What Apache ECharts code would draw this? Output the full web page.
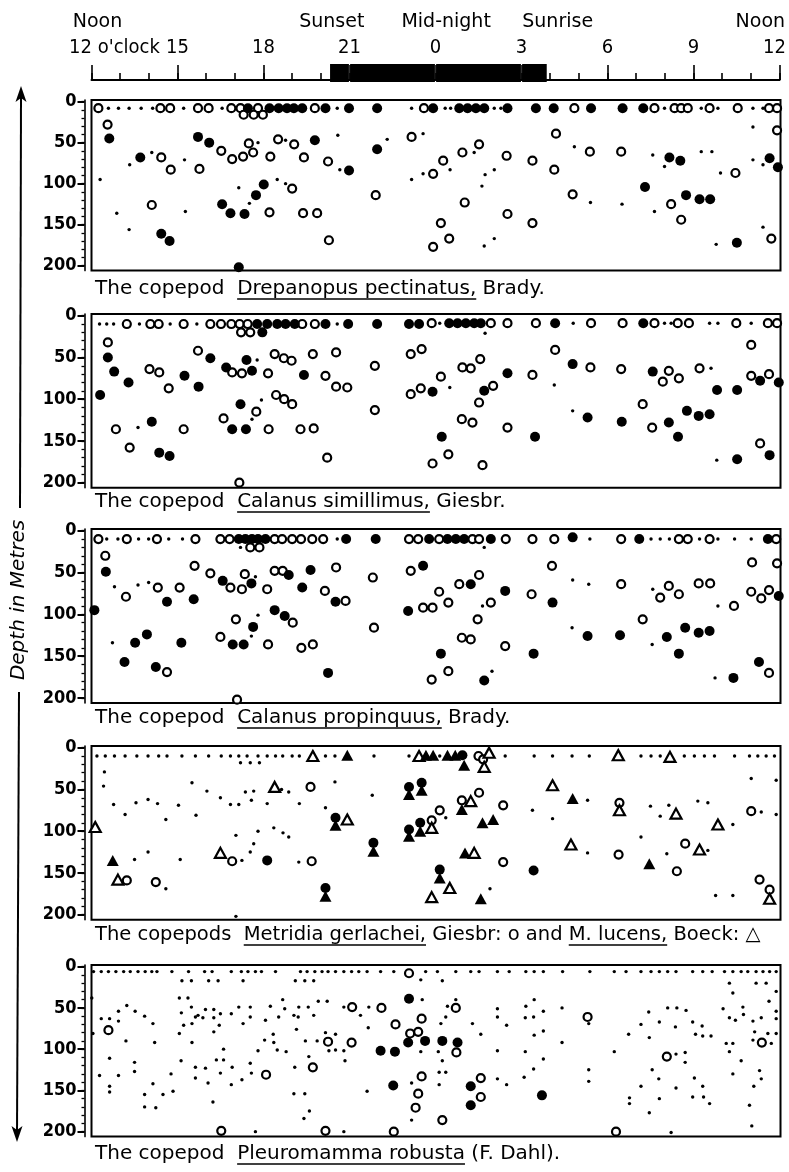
<!DOCTYPE html>
<html><head><meta charset="utf-8">
<script src="https://cdn.jsdelivr.net/npm/echarts@6/dist/echarts.min.js"></script>
<style>html,body{margin:0;padding:0;background:#fff}#c{width:789px;height:1172px}</style>
</head><body><div id="c"></div>
<script>
// ---------- axis values ----------
const hourMin = 12, hourMax = 36;
const depthMin = -2, depthMax = 206;
const tickHours = [12, 15, 18, 21, 24, 27, 30, 33, 36];
const tickLabels = ["12 o'clock", "15", "18", "21", "0", "3", "6", "9", "12"];
const dayWords = ["Noon", "Sunset", "Mid-night", "Sunrise", "Noon"];
const dayWordHours = [12.21, 20.38, 24.37, 28.26, 35.33];
const nightStart = 20.3, nightEnd = 27.9;
const nightBreaks = [21, 24, 27];
const depthTicks = [0, 50, 100, 150, 200];
const depthMinor = [0, 10, 20, 30, 40, 50, 60, 70, 80, 90, 100, 110, 120, 130, 140, 150, 160, 170, 180, 190, 200];

// ---------- captions ----------
const caption1 = ["The copepod  ", "Drepanopus pectinatus,", " Brady."];
const caption2 = ["The copepod  ", "Calanus simillimus,", " Giesbr."];
const caption3 = ["The copepod  ", "Calanus propinquus,", " Brady."];
const caption4 = ["The copepods  ", "Metridia gerlachei,", " Giesbr: o and ", "M. lucens,", " Boeck: \u25B3"];
const caption5 = ["The copepod  ", "Pleuromamma robusta", " (F. Dahl)."];
const depthTitle = "Depth in Metres";

// ---------- Panel 1: Drepanopus pectinatus [hour, depth m] ----------
const p1Dots = [[12.59,8],[12.94,8],[13.31,8],[13.73,8],[14.13,8],[15.21,8],[16.55,8],[20.56,8],[23.15,8],[24.32,8],[24.51,8],[26.03,8],[26.26,8],[31.96,8],[33.24,8],[33.82,8],[35.04,8],[35.39,8],
[12.30,95],[14.10,62],[13.33,77],[12.88,136],[13.31,156],[15.24,71],[15.27,134],[17.80,50],[18.76,47],[20.58,41],[20.65,83],[17.13,105],[17.50,124],[18.47,95],[18.76,100],[23.15,95],[22.30,46],[23.55,39],[24.49,83],[23.55,88],[25.33,62],[25.71,89],[26.03,83],[25.60,103],[28.82,55],[31.55,65],[31.96,79],[33.24,61],[33.61,61],[29.38,123],[30.48,125],[25.68,176],[26.03,167],[31.61,134],[33.76,174],[33.91,87],[35.04,31],[35.04,71],[35.39,77],[35.39,153]];
const p1Open = [[12.24,8],[14.40,8],[14.74,8],[15.71,8],[16.08,8],[16.87,8],[17.19,8],[17.80,8],[19.78,8],[23.58,8],[28.82,8],[31.61,8],[32.31,8],[32.54,8],[32.77,8],[33.53,8],[34.51,8],[35.60,8],[35.88,8],
[17.30,16],[17.65,16],[17.97,16],
[12.56,28],[14.43,68],[14.76,83],[14.10,126],[15.76,82],[16.52,60],[16.90,70],[17.28,67],[17.48,51],[17.63,62],[18.23,67],[18.50,46],[19.06,52],[19.40,68],[20.24,73],[23.15,43],[18.20,135],[18.99,106],[19.37,136],[19.86,136],[20.27,169],[21.90,114],
[28.18,39],[24.92,62],[25.50,52],[24.25,72],[23.90,88],[26.46,66],[27.36,72],[28.12,83],[29.36,61],[30.45,61],[28.76,113],[25.00,123],[24.17,148],[24.46,167],[23.90,177],[26.49,137],[27.36,148],[32.19,125],[32.54,144],[34.43,87],[35.88,35],[35.68,167]];
const p1Filled = [[17.45,8],[18.20,8],[18.52,8],[18.81,8],[19.05,8],[19.34,8],[20.15,8],[20.97,8],[21.95,8],[23.90,8],[24.81,8],[25.10,8],[25.39,8],[25.68,8],[26.49,8],[27.48,8],[28.10,8],[29.40,8],[30.50,8],[31.22,8],
[12.62,45],[13.70,68],[14.43,161],[14.72,170],[15.71,43],[16.10,50],[19.78,47],[20.97,84],[21.95,58],[18.00,101],[17.73,114],[16.55,125],[16.84,136],[17.33,137],[17.13,202],
[32.13,68],[32.51,72],[31.28,104],[32.71,114],[33.18,119],[33.55,119],[34.48,172],[35.62,69],[35.91,80]];

// ---------- Panel 2: Calanus simillimus ----------
const p2Dots = [[12.28,10],[12.53,10],[12.77,10],[13.67,10],[14.74,10],[15.67,10],[20.56,10],[24.13,9],[28.78,9],[31.96,9],[32.19,9],[33.53,9],[33.82,9],[34.98,9],
[13.62,134],[17.77,53],[17.92,101],[17.59,124],[25.71,21],[24.48,86],[28.12,83],[33.58,63],[28.76,114],[33.78,173]];
const p2Open = [[13.23,10],[14.05,10],[14.34,10],[15.21,10],[16.14,10],[16.51,10],[16.87,10],[17.16,10],[17.44,10],[19.34,10],[19.78,10],[23.85,9],[25.91,9],[26.49,9],[27.48,9],[29.40,9],[30.50,9],[31.61,9],[32.42,9],[32.81,9],[34.46,9],[35.56,9],[35.88,9],
[17.21,20],[17.53,20],
[12.57,32],[14.02,64],[14.36,68],[14.69,87],[12.85,136],[13.33,158],[15.21,136],[15.71,42],[16.90,68],[17.24,69],[18.15,69],[18.38,46],[18.70,51],[18.97,54],[19.71,46],[20.15,72],[20.52,44],[20.52,85],[20.91,86],[21.87,60],[21.87,113],[17.74,115],[16.60,123],[18.17,136],[18.43,95],[18.71,100],[18.99,106],[19.28,136],[19.74,135],[20.21,170],[17.15,200],[23.12,46],[23.12,94],
[23.50,40],[28.15,41],[24.92,62],[25.21,63],[25.54,52],[24.17,73],[23.47,87],[25.99,84],[25.50,104],[27.36,71],[29.38,62],[30.45,64],[32.11,66],[31.90,79],[32.46,75],[33.18,63],[34.98,72],[35.60,70],[34.98,35],[24.90,124],[25.27,128],[24.43,166],[23.88,177],[25.62,179],[26.49,134],[31.20,106],[31.53,134],[35.29,153]];
const p2Filled = [[17.77,10],[18.12,10],[18.47,10],[18.76,10],[19.08,10],[20.15,10],[20.94,10],[21.95,10],[23.06,10],[23.41,10],[24.46,9],[24.75,9],[25.04,9],[25.33,9],[25.56,9],[28.15,9],[31.22,9],
[17.95,20],
[12.57,50],[12.79,67],[12.30,95],[13.29,80],[14.10,127],[14.36,164],[14.72,168],[15.24,72],[15.73,85],[16.14,51],[16.69,62],[17.40,53],[17.59,66],[19.40,71],[17.19,106],[16.90,136],[17.38,136],
[23.88,91],[25.68,90],[26.49,69],[28.76,58],[31.55,67],[33.79,89],[34.49,89],[35.29,78],[35.94,80],[24.20,145],[27.45,145],[29.28,122],[30.47,127],[32.11,128],[32.43,145],[32.74,114],[33.15,120],[33.53,118],[35.62,167],[34.49,172]];

// ---------- Panel 3: Calanus propinquus ----------
const p3Dots = [[12.53,10],[12.92,10],[13.64,10],[13.99,10],[14.69,10],[15.17,10],[20.56,10],[29.36,10],[31.49,10],[31.81,10],[32.13,10],[33.18,10],[33.82,10],[34.40,10],[34.98,10],
[17.19,20],
[12.80,67],[13.62,65],[13.99,62],[17.71,55],[12.73,134],[17.80,101],[17.57,126],[25.68,20],[25.62,90],[28.76,59],[29.32,64],[31.55,70],[33.82,90],[28.74,116],[31.53,136],[25.95,168],[33.72,176]];
const p3Open = [[12.24,10],[13.23,10],[14.28,10],[15.62,10],[16.49,10],[16.81,10],[18.38,10],[18.64,10],[18.99,10],[19.30,10],[19.69,10],[20.07,10],[23.06,10],[23.38,10],[24.11,10],[25.27,10],[25.50,10],[26.43,10],[27.36,10],[28.12,10],[30.45,10],[32.46,10],[32.77,10],[33.53,10],[35.85,10],
[17.53,20],[17.85,20],
[12.48,30],[13.20,79],[14.31,68],[15.07,68],[15.59,42],[16.14,51],[16.84,68],[17.24,70],[17.34,52],[18.12,70],[18.38,48],[18.66,48],[20.13,72],[20.52,44],[20.85,84],[21.80,56],[21.84,116],[14.63,169],[17.03,106],[16.49,127],[18.15,136],[19.01,110],[19.31,140],[19.71,136],[17.07,202],[23.12,48],
[28.04,42],[24.11,73],[24.43,86],[24.81,64],[25.50,53],[23.55,92],[23.88,92],[25.91,86],[25.45,106],[27.33,76],[30.45,64],[32.11,66],[31.81,80],[32.46,76],[33.15,63],[33.55,63],[34.38,90],[35.01,38],[35.88,39],[34.98,73],[35.33,81],[35.60,71],[31.20,106],[24.90,128],[25.21,130],[24.43,168],[23.85,178],[26.41,138],[35.60,170]];
const p3Filled = [[17.13,10],[17.36,10],[17.59,10],[17.80,10],[18.06,10],[20.87,10],[21.90,10],[23.76,10],[24.40,10],[24.69,10],[24.98,10],[25.91,10],[28.76,8],[31.08,10],[35.56,10],
[12.50,49],[12.10,95],[14.63,85],[15.56,82],[16.57,60],[17.57,63],[18.87,53],[19.63,47],[19.34,68],[20.50,85],[13.52,134],[13.93,124],[13.15,157],[14.24,163],[15.13,134],[17.63,115],[16.92,136],[17.30,136],[18.38,95],[18.73,102],[20.24,170],[23.03,96],
[23.55,42],[25.21,64],[26.41,72],[28.06,86],[35.94,78],[29.28,126],[30.41,125],[32.04,127],[32.46,147],[32.68,116],[33.15,122],[33.53,120],[24.17,147],[25.68,179],[27.40,147],[35.25,157],[34.36,176]];

// ---------- Panel 4: Metridia gerlachei (circles) and M. lucens (triangles) ----------
const p4Dots = [[12.19,10],[12.48,10],[12.80,10],[13.17,10],[13.58,10],[13.97,10],[14.34,10],[14.63,10],[15.15,10],[15.62,10],[16.08,10],[16.52,10],[16.84,10],[17.13,10],[17.42,10],[17.80,10],[18.12,10],[18.41,10],[18.66,10],[18.99,10],[19.24,10],[20.15,10],[20.48,10],[21.84,10],[23.06,10],
[24.13,10],[26.41,10],[27.42,10],[28.06,10],[28.74,10],[29.34,10],[31.14,10],[31.49,10],[31.81,10],[32.65,10],[33.00,10],[33.35,10],[33.70,10],[34.40,10],[34.92,10],[35.21,10],[35.50,10],[35.79,10],
[17.19,18],[17.53,18],[17.85,18],
[12.45,29],[12.42,46],[12.77,68],[13.17,80],[13.55,66],[13.97,62],[14.30,67],[14.59,86],[15.03,69],[15.50,42],[15.64,81],[16.02,52],[16.49,60],[16.84,68],[17.13,68],[17.36,53],[17.65,52],[17.57,63],[18.12,67],[18.62,50],[18.87,53],[19.24,67],[20.48,41],[20.15,72],[21.78,57],[17.03,105],[17.80,100],[17.65,115],[17.53,125],[18.35,96],[18.67,102],[18.87,107],[13.50,134],[13.97,125],[14.59,169],[15.09,134],[17.24,135],[19.22,137],[17.03,202],
[24.34,84],[27.36,75],[28.06,85],[29.28,63],[31.47,70],[32.11,69],[31.81,82],[33.12,64],[33.47,66],[34.34,92],[35.33,77],[35.85,80],[34.98,37],[35.85,39],[31.14,107],[33.47,123],[29.28,126],[32.04,127],[25.88,169],[33.74,177],[34.34,177]];
const p4OpenCircle = [[19.63,47],[13.23,159],[14.24,161],[16.90,136],[19.67,136],[25.48,10],[25.64,14],[23.85,87],[24.13,75],[24.90,63],[25.50,54],[26.34,69],[30.39,66],[34.98,76],[32.68,115],[26.34,137],[30.36,128],[32.39,148],[35.27,158],[35.62,170]];
const p4FilledCircle = [[18.12,135],[20.50,84],[21.82,114],[20.15,168],[23.06,47],[23.50,42],[23.06,98],[23.45,90],[24.92,9],[27.40,147],[24.13,146]];
const p4OpenTriangle = [[19.71,10],[23.41,10],[18.38,47],[20.91,86],[12.13,95],[12.92,158],[16.49,126],[25.85,6],[25.68,23],[23.85,96],[25.21,64],[28.06,45],[30.39,75],[30.35,9],[32.15,11],[32.36,79],[33.82,92],[33.18,122],[25.33,126],[28.70,116],[24.48,168],[23.85,179],[35.62,181]];
const p4FilledTriangle = [[20.91,9],[23.65,9],[23.90,9],[24.40,9],[24.67,9],[24.98,21],[12.74,135],[20.50,93],[21.82,124],[20.15,178],[23.06,56],[23.50,51],[23.06,106],[23.45,100],[24.90,74],[25.62,90],[25.99,86],[28.76,61],[25.01,126],[31.43,139],[24.13,156],[25.56,181]];

// ---------- Panel 5: Pleuromamma robusta ----------
const p5Dots = [[12.07,6],[12.34,6],[12.59,6],[12.85,6],[13.12,6],[13.35,6],[13.62,6],[13.87,6],[14.10,6],[14.28,6],[14.80,6],[15.38,6],[15.94,6],[16.20,6],[16.87,6],[17.22,6],[17.45,6],[17.71,6],[17.92,6],[18.41,6],[19.28,6],[19.51,6],[19.78,6],[20.03,6],[20.24,6],[20.50,6],[20.79,6],[21.06,6],[21.31,6],[21.60,6],[22.07,6],[22.53,6],
[23.64,6],[24.05,6],[24.69,6],[25.21,6],[25.50,6],[26.14,6],[26.55,6],[27.13,6],[27.42,6],[27.74,6],[28.41,6],[29.36,6],[30.21,6],[30.62,6],[31.14,6],[31.49,6],[31.78,6],[32.07,6],[32.36,6],[32.94,6],[33.29,6],[33.62,6],[34.05,6],[34.34,6],[34.63,6],[34.86,6],[35.15,6],[35.39,6],[35.62,6],[35.85,6],
[15.15,17],[15.48,17],[16.08,17],[16.41,17],[17.28,17],[19.10,17],[19.43,17],[19.74,17],[23.47,16],[24.22,17],[34.22,20],[35.15,20],[35.50,20],
[12.01,38],[12.34,63],[12.63,63],[12.94,54],[13.23,47],[13.52,54],[13.85,60],[14.14,69],[12.05,81],[12.94,66],[13.20,90],[12.63,111],[12.94,132],[13.50,116],[13.50,127],[12.28,132],[12.63,145],[12.63,152],[13.85,155],[14.14,142],[14.49,155],[13.85,170],[14.24,171],[14.20,92],[14.77,130],[14.84,151],[15.12,114],
[15.06,38],[15.36,38],[15.13,56],[15.48,49],[15.71,59],[15.97,52],[16.26,52],[16.49,57],[15.21,71],[15.50,69],[15.62,61],[15.06,81],[15.50,92],[15.88,62],[16.26,62],[16.26,79],[16.45,71],[15.62,122],[15.97,123],[15.62,135],[16.06,141],[16.23,164],[16.35,113],[16.49,129],[16.60,100],[16.60,113],[16.90,122],[16.87,143],[17.24,137],[17.53,117],[17.57,129],
[16.87,57],[17.13,49],[17.28,69],[17.53,49],[17.53,61],[17.80,102],[18.03,89],[18.06,65],[18.23,48],[18.33,82],[18.35,92],[18.47,101],[18.66,40],[18.52,61],[18.73,51],[18.78,103],[19.05,59],[19.20,61],[19.14,76],[19.22,49],[19.45,90],[19.55,49],[19.74,59],[19.90,42],[20.21,42],[19.08,122],[19.57,109],[19.86,90],
[20.15,80],[20.50,82],[20.27,102],[20.50,101],[20.79,102],[20.83,114],[20.79,49],[21.37,59],[21.66,49],[21.64,74],[21.60,151],[23.15,141],[23.52,40],[23.47,103],[23.15,186],
[19.05,154],[19.43,154],[19.59,175],[19.40,184],[17.71,200],[20.79,200],
[24.40,48],[24.69,40],[24.17,69],[24.34,61],[25.27,69],[25.56,82],[26.14,51],[26.14,61],[26.46,71],[27.13,48],[27.42,40],[27.11,62],[27.40,61],[27.74,54],[27.42,83],[27.74,78],[28.39,50],[28.39,92],[26.14,102],[27.11,103],[27.74,112],[27.40,124],[27.07,134],[26.46,143],[26.14,136],[24.11,143],[24.11,128],[24.34,128],[24.22,114],[24.08,103],
[29.32,125],[29.32,139],[29.32,69],[30.21,103],[30.71,82],[31.14,70],[31.41,55],[31.43,86],[31.78,67],[32.07,50],[32.39,50],[32.71,53],[32.34,73],[32.94,67],[33.27,72],[33.04,82],[33.29,84],[33.58,84],[32.68,104],[32.68,116],[32.36,106],[31.53,125],[31.76,136],[31.14,145],[31.78,160],[32.36,147],[33.00,135],[33.29,145],[32.94,158],[33.32,158],[33.53,166],[30.74,159],[30.74,166],[31.43,177],[32.19,201],
[34.00,51],[34.22,62],[34.43,65],[34.34,32],[34.69,49],[34.71,58],[35.04,66],[35.33,62],[35.60,42],[35.85,54],[35.85,63],[35.10,79],[35.56,81],[35.85,81],[34.11,93],[34.34,93],[34.22,103],[34.63,114],[35.04,89],[35.68,93],[34.34,130],[35.27,126],[35.33,136],[35.07,145],[34.92,168],[35.00,193],[35.85,30]];
const p5Open = [[12.59,77],[16.52,199],[18.08,131],[19.71,122],[20.24,91],[21.08,49],[21.06,92],[22.10,50],[22.59,70],[20.15,199],[22.53,200],[23.06,8],[23.10,81],[23.38,79],[23.38,154],[23.29,171],[23.50,63],[24.69,50],[24.71,104],[23.50,133],[25.56,135],[25.56,158],[24.22,186],[29.28,61],[30.27,200],[32.04,109],[35.35,92]];
const p5Filled = [[23.06,39],[22.07,102],[22.57,103],[23.03,92],[23.62,90],[24.22,90],[24.75,92],[22.51,144],[25.21,145],[25.21,168],[27.69,156]];

// ---------- layout ----------
const GRID_LEFT = 91.5, GRID_RIGHT = 8.5;
const panelTops = [100, 314, 529, 746, 965];
const panelHeights = [170.6, 173.7, 174, 173.7, 171.6];
const captionYs = [289, 502, 718, 935, 1154];
const captionSizes = [20, 20, 20, 19.5, 20];
const captionX = 95;
const CAP_FONT = 'DejaVu Sans';
const TOP_FONT = "'DejaVu Sans Condensed', 'DejaVu Sans'";
const NUM_FONT = "'Liberation Sans Narrow', 'DejaVu Sans Condensed', 'Liberation Sans'";

const panels = [
  { series: [['dot', p1Dots], ['open', p1Open], ['filled', p1Filled]], caption: caption1, under: [0,1,0] },
  { series: [['dot', p2Dots], ['open', p2Open], ['filled', p2Filled]], caption: caption2, under: [0,1,0] },
  { series: [['dot', p3Dots], ['open', p3Open], ['filled', p3Filled]], caption: caption3, under: [0,1,0] },
  { series: [['dot', p4Dots], ['open', p4OpenCircle], ['openTri', p4OpenTriangle], ['filled', p4FilledCircle], ['filledTri', p4FilledTriangle]], caption: caption4, under: [0,1,0,1,0] },
  { series: [['dot', p5Dots], ['open', p5Open], ['filled', p5Filled]], caption: caption5, under: [0,1,0] }
];

const markStyles = {
  dot: { symbol: 'circle', symbolSize: 3.4, itemStyle: { color: '#000', opacity: 1 } },
  open: { symbol: 'circle', symbolSize: 8, itemStyle: { color: '#fff', borderColor: '#000', borderWidth: 2.2, opacity: 1 } },
  filled: { symbol: 'circle', symbolSize: 10, itemStyle: { color: '#000', opacity: 1 } },
  openTri: { symbol: 'triangle', symbolSize: [11, 10], itemStyle: { color: '#fff', borderColor: '#000', borderWidth: 2.2, opacity: 1 } },
  filledTri: { symbol: 'triangle', symbolSize: [12, 11], itemStyle: { color: '#000', opacity: 1 } }
};

const grids = [{ left: GRID_LEFT, right: GRID_RIGHT, top: 64, height: 16 }];
const xAxes = [
  { gridIndex: 0, type: 'value', min: hourMin, max: hourMax, interval: 1, position: 'bottom',
    axisLine: { show: true, lineStyle: { color: '#000', width: 2 } },
    axisTick: { show: true, inside: true, length: 7, lineStyle: { color: '#000', width: 1.6 } },
    axisLabel: { show: false }, splitLine: { show: false } },
  { gridIndex: 0, type: 'value', min: hourMin, max: hourMax, interval: 3, position: 'bottom',
    axisLine: { show: false },
    axisTick: { show: true, inside: true, length: 15, lineStyle: { color: '#000', width: 1.6 } },
    axisLabel: { show: false }, splitLine: { show: false } },
  { gridIndex: 0, type: 'value', min: hourMin, max: hourMax, position: 'top',
    axisLine: { show: false }, axisTick: { show: false }, splitLine: { show: false },
    axisLabel: { show: true, customValues: tickHours, margin: 6, color: '#000', fontFamily: TOP_FONT, fontSize: 20,
      formatter: function (v) {
        let k = 0, best = 1e9;
        tickHours.forEach(function (h, i) { if (Math.abs(h - v) < best) { best = Math.abs(h - v); k = i; } });
        if (k === 0) return '{l|' + tickLabels[k] + '}';
        if (k === tickHours.length - 1) return '{r|' + tickLabels[k] + '}';
        return tickLabels[k];
      },
      rich: { l: { padding: [0, 0, 0, 46], fontFamily: TOP_FONT, fontSize: 20, color: '#000' },
              r: { padding: [0, 10, 0, 0], fontFamily: TOP_FONT, fontSize: 20, color: '#000' } } } },
  { gridIndex: 0, type: 'value', min: hourMin, max: hourMax, position: 'top', offset: 25,
    axisLine: { show: false }, axisTick: { show: false }, splitLine: { show: false },
    axisLabel: { show: true, customValues: dayWordHours, margin: 7, color: '#000', fontFamily: 'DejaVu Sans', fontSize: 19,
      formatter: function (v) {
        let k = 0, best = 1e9;
        dayWordHours.forEach(function (h, i) { if (Math.abs(h - v) < best) { best = Math.abs(h - v); k = i; } });
        return dayWords[k];
      } } }
];
const yAxes = [{ gridIndex: 0, type: 'value', min: 0, max: 1, show: false }];
const series = [];

// night bar
const nightEdges = [nightStart].concat(nightBreaks, [nightEnd]);
const nightSegments = [];
for (let i = 0; i < nightEdges.length - 1; i++) nightSegments.push([nightEdges[i], nightEdges[i + 1]]);
series.push({
  type: 'custom', xAxisIndex: 0, yAxisIndex: 0, silent: true, z: 5,
  encode: { x: [0, 1] },
  data: nightSegments,
  renderItem: function (params, api) {
    const a = api.coord([api.value(0), 1]);
    const b = api.coord([api.value(1), 0]);
    return { type: 'rect', shape: { x: a[0] + 0.6, y: a[1], width: b[0] - a[0] - 1.2, height: b[1] - a[1] + 2 }, style: { fill: '#000' } };
  }
});

panels.forEach(function (p, i) {
  const g = i + 1;
  grids.push({ left: GRID_LEFT, right: GRID_RIGHT, top: panelTops[i], height: panelHeights[i],
    show: true, borderColor: '#000', borderWidth: 2, backgroundColor: 'transparent' });
  const xIdx = xAxes.length;
  xAxes.push({ gridIndex: g, type: 'value', min: hourMin, max: hourMax, show: false });
  const yIdx = yAxes.length;
  yAxes.push({ gridIndex: g, type: 'value', inverse: true, min: depthMin, max: depthMax, position: 'left', offset: 7,
    axisLine: { show: true, lineStyle: { color: '#000', width: 1.6 } },
    axisTick: { show: true, customValues: depthMinor, length: 3, lineStyle: { color: '#000', width: 1.3 } },
    axisLabel: { show: false }, splitLine: { show: false } });
  yAxes.push({ gridIndex: g, type: 'value', inverse: true, min: depthMin, max: depthMax, position: 'left', offset: 7,
    axisLine: { show: false },
    axisTick: { show: true, customValues: depthTicks, length: 7, lineStyle: { color: '#000', width: 2 } },
    axisLabel: { show: true, customValues: depthTicks, margin: 8, color: '#000', fontWeight: 'bold', fontSize: 18, fontFamily: NUM_FONT },
    splitLine: { show: false } });
  p.series.forEach(function (s) {
    const st = markStyles[s[0]];
    series.push(Object.assign({ type: 'scatter', xAxisIndex: xIdx, yAxisIndex: yIdx, data: s[1], silent: true, z: 3 }, JSON.parse(JSON.stringify(st))));
  });
});

// ---------- graphic: captions, depth arrow ----------
const measureCtx = document.createElement('canvas').getContext('2d');
const graphics = [];
panels.forEach(function (p, i) {
  let x = captionX;
  const y = captionYs[i];
  const size = captionSizes[i];
  measureCtx.font = size + 'px "' + CAP_FONT + '"';
  p.caption.forEach(function (t, j) {
    const w = measureCtx.measureText(t).width;
    graphics.push({ type: 'text', x: x, y: y, silent: true,
      style: { text: t, fill: '#000', fontSize: size, fontFamily: CAP_FONT, align: 'left', verticalAlign: 'middle' } });
    if (p.under[j]) {
      const lead = t.length - t.replace(/^\s+/, '').length;
      const x0 = x + measureCtx.measureText(t.slice(0, lead)).width;
      graphics.push({ type: 'line', silent: true, shape: { x1: x0, y1: y + 10, x2: x + w, y2: y + 10 }, style: { stroke: '#000', lineWidth: 1.6 } });
    }
    x += w;
  });
});
graphics.push({ type: 'line', silent: true, shape: { x1: 21, y1: 96, x2: 20, y2: 508 }, style: { stroke: '#000', lineWidth: 2 } });
graphics.push({ type: 'line', silent: true, shape: { x1: 19, y1: 692, x2: 17, y2: 1132 }, style: { stroke: '#000', lineWidth: 2 } });
graphics.push({ type: 'polygon', silent: true, shape: { points: [[21, 86], [15.5, 102], [21, 98], [26.5, 102]] }, style: { fill: '#000' } });
graphics.push({ type: 'polygon', silent: true, shape: { points: [[17, 1142], [11.5, 1126], [17, 1130], [22.5, 1126]] }, style: { fill: '#000' } });
graphics.push({ type: 'text', silent: true, x: 19, y: 600, rotation: Math.PI / 2,
  style: { text: depthTitle, fill: '#000', fontSize: 20, fontStyle: 'italic', fontFamily: 'DejaVu Sans', align: 'center', verticalAlign: 'middle' } });

const chart = echarts.init(document.getElementById('c'), null, { renderer: 'canvas' });
chart.setOption({
  animation: false,
  backgroundColor: '#fff',
  grid: grids,
  xAxis: xAxes,
  yAxis: yAxes,
  series: series,
  graphic: { elements: graphics }
});
</script></body></html>
